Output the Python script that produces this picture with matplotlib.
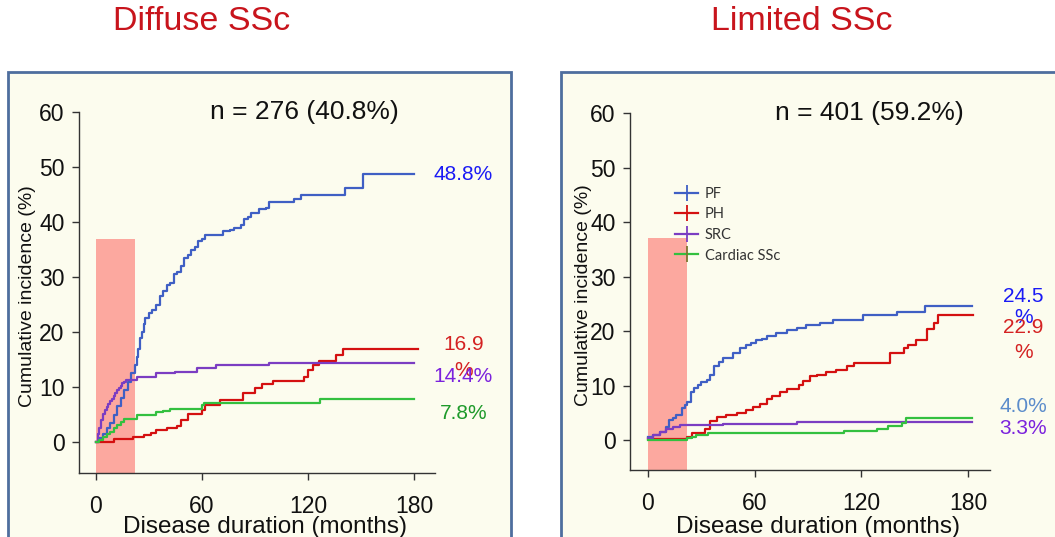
import matplotlib
matplotlib.use("Agg")
import matplotlib.pyplot as plt
from matplotlib.lines import Line2D
from matplotlib.patches import Rectangle

plt.rcParams['font.family'] = ['Liberation Sans', 'DejaVu Sans']

# ---- data: step points (months, cumulative incidence %) ----
# Diffuse SSc
d_pf_t = [0, 2, 4, 6, 8, 10, 12, 14, 16, 18, 20, 22, 23, 24, 25, 26, 27, 28, 30, 32, 34, 36, 38, 40,
          42, 44, 46, 48, 50, 52, 54, 56, 58, 60, 62, 72, 76, 78, 82, 84, 86, 88, 92, 96, 98, 112,
          116, 141, 151, 180]
d_pf_v = [0, 0.7, 1.5, 2.5, 3.5, 5, 6.5, 8, 9.5, 11, 12.5, 14, 15.5, 17, 19, 20, 21.5, 22.5, 23.5, 24,
          25, 26.5, 27.5, 28.5, 29, 30.5, 31, 32, 33.5, 34, 35, 35.5, 36.5, 37, 37.6, 38.3, 38.6, 39,
          39.5, 40.5, 41, 41.6, 42.3, 42.6, 43.7, 44.2, 44.9, 46.2, 48.8, 48.8]
d_ph_t = [0, 10, 21, 27, 31, 34, 40, 46, 48, 52, 56, 60, 62, 66, 70, 78, 83, 90, 94, 100, 118, 120,
          123, 126, 136, 140, 182]
d_ph_v = [0, 0.5, 1.0, 1.3, 1.7, 2.2, 2.5, 2.9, 4.0, 5.1, 5.1, 5.8, 6.8, 6.8, 7.7, 7.7, 8.9, 9.8,
          10.6, 11.2, 11.9, 13.1, 14.1, 14.7, 15.9, 16.9, 16.9]
d_src_t = [0, 1, 2, 3, 4, 5, 6, 7, 8, 9, 10, 11, 12, 13, 14, 15, 16, 17, 23, 34, 45, 57, 68, 98, 180]
d_src_v = [0, 1.5, 2.5, 4.0, 5.2, 5.8, 6.4, 7.0, 7.4, 7.8, 8.4, 9.0, 9.5, 9.9, 10.3, 10.7, 11.0, 11.3,
           11.9, 12.5, 12.8, 13.4, 14.0, 14.4, 14.4]
d_car_t = [0, 2, 4, 6, 8, 10, 12, 14, 16, 23, 34, 38, 42, 52, 60, 61, 127, 180]
d_car_v = [0, 0.4, 1.0, 1.5, 1.9, 2.5, 3.1, 3.7, 4.3, 4.9, 5.4, 5.7, 6.0, 6.1, 6.8, 7.1, 7.8, 7.8]

# Limited SSc
l_pf_t = [0, 3, 7, 10, 12, 14, 16, 19, 21, 22, 24, 26, 28, 30, 33, 35, 37, 40, 42, 45, 48, 52, 55,
          58, 61, 64, 67, 72, 78, 84, 89, 97, 104, 112, 121, 140, 156, 182]
l_pf_v = [0.5, 0.9, 1.5, 2.4, 3.7, 4.0, 4.6, 5.8, 6.4, 7.0, 8.9, 9.5, 10.1, 10.6, 11.0, 11.9, 13.5,
          14.4, 15.0, 15.0, 15.9, 16.8, 17.4, 17.8, 18.3, 18.6, 19.0, 19.6, 20.2, 20.6, 21.1, 21.5,
          22.0, 22.1, 22.9, 23.5, 24.5, 24.5]
l_ph_t = [0, 22, 25, 32, 35, 39, 44, 50, 55, 59, 63, 67, 70, 74, 78, 85, 87, 91, 95, 100, 106, 112,
          116, 136, 144, 146, 151, 157, 161, 163, 183]
l_ph_v = [0.1, 0.6, 1.2, 2.1, 3.4, 4.2, 4.6, 5.0, 5.5, 6.1, 6.7, 7.5, 8.1, 8.9, 9.3, 10.1, 10.8, 11.7,
          11.9, 12.4, 12.8, 13.5, 14.2, 15.9, 16.8, 17.4, 18.3, 20.3, 21.4, 22.9, 22.9]
l_src_t = [0, 3, 7, 10, 14, 18, 42, 84, 182]
l_src_v = [0.3, 0.9, 1.5, 2.1, 2.4, 2.7, 3.0, 3.3, 3.3]
l_car_t = [0, 22, 25, 27, 34, 110, 129, 135, 143, 145, 182]
l_car_v = [0, 0.3, 0.6, 0.9, 1.2, 1.7, 2.1, 2.6, 3.1, 4.0, 4.0]

labels = ['PF', 'PH', 'SRC', 'Cardiac SSc']
line_colors = ['#3F5FC4', '#D41010', '#7B3DC2', '#33C03F']

# end-of-curve labels: (text, y, colour)
d_end = [('48.8%', 48.7, '#1A1AF5'), ('16.9', 17.7, '#D42222'), ('%', 13.1, '#D42222'),
         ('14.4%', 11.9, '#7B22DD'), ('7.8%', 5.3, '#1E9A2A')]
l_end = [('24.5', 26.4, '#1A1AF5'), ('%', 22.4, '#1A1AF5'), ('22.9', 20.6, '#D42222'),
         ('%', 16.1, '#D42222'), ('4.0%', 6.1, '#5B8CCB'), ('3.3%', 2.2, '#7B22DD')]

cream = '#FCFCEE'
border = '#4E6E9E'

fig = plt.figure(figsize=(10.55, 5.37), dpi=100)
W, H = 1055, 537

# panel boxes (behind the axes)
for x0, x1 in [(8, 511), (561, 1057)]:
    fig.patches.append(Rectangle((x0 / W, -0.05), (x1 - x0) / W, (H - 72) / H + 0.05,
                                 transform=fig.transFigure, facecolor=cream,
                                 edgecolor=border, linewidth=2, zorder=-1))

fig.text(202 / W, 1 - 22 / H, 'Diffuse SSc', color='#C8141C', fontsize=24.5, ha='center', va='center')
fig.text(802 / W, 1 - 22 / H, 'Limited SSc', color='#C8141C', fontsize=24.5, ha='center', va='center')


def panel(rect, xlim, ylim, series, ntext, nx, ends, endx, xl_y, yl_x, legend=False):
    ax = fig.add_axes(rect)
    ax.set_facecolor('none')
    ax.set_xlim(*xlim)
    ax.set_ylim(*ylim)
    for s in ['top', 'right']:
        ax.spines[s].set_visible(False)
    for s in ['left', 'bottom']:
        ax.spines[s].set_color('#333333')
        ax.spines[s].set_linewidth(1.0)
    ax.set_xticks([0, 60, 120, 180])
    ax.set_yticks([0, 10, 20, 30, 40, 50, 60])
    ax.tick_params(labelsize=16.5, length=5, width=1, color='#333333', labelcolor='#111111')
    ax.tick_params(axis='y', pad=5.5)
    ax.tick_params(axis='x', pad=10.5)

    # early-disease shading
    ax.add_patch(Rectangle((0, ylim[0]), 22, 37 - ylim[0], facecolor='#FCA89F',
                           edgecolor='none', zorder=1))

    for (t, v), c in zip(series, line_colors):
        ax.step(t, v, where='post', color=c, lw=1.6, zorder=3)

    ax.text(nx, 1.0, ntext, transform=ax.transAxes, fontsize=19, ha='center', va='center',
            color='#111111')
    for txt, y, c in ends:
        ax.text(endx, y, txt, color=c, fontsize=15, ha='center', va='center')

    ax.set_xlabel('Disease duration (months)', fontsize=17.5, color='#111111')
    ax.set_ylabel('Cumulative incidence (%)', fontsize=14, color='#111111')
    ax.xaxis.set_label_coords(0.522, xl_y)
    ax.yaxis.set_label_coords(yl_x, 0.49)

    if legend:
        handles = []
        for c, mc in zip(line_colors, line_colors[:3] + ['#7D7530']):
            handles.append(Line2D([], [], color=c, lw=1.6, marker='|', markersize=11,
                                  markeredgewidth=1.3, markeredgecolor=mc))
        ax.legend(handles, labels, loc='upper left', bbox_to_anchor=(0.125, 0.793),
                  frameon=False, prop={'family': 'Lato', 'size': 10.5}, borderpad=0,
                  borderaxespad=0, handlelength=1.6, handletextpad=0.45, labelspacing=0.45,
                  labelcolor='#333333')
    return ax


panel([79 / W, 1 - 473 / H, 356 / W, 361 / H], (-9.6, 191.9), (-5.6, 60),
      [(d_pf_t, d_pf_v), (d_ph_t, d_ph_v), (d_src_t, d_src_v), (d_car_t, d_car_v)],
      'n = 276 (40.8%)', 0.632, d_end, 208, -0.118, -0.12)

panel([630 / W, 1 - 470 / H, 360 / W, 357 / H], (-10.1, 192.4), (-5.5, 60),
      [(l_pf_t, l_pf_v), (l_ph_t, l_ph_v), (l_src_t, l_src_v), (l_car_t, l_car_v)],
      'n = 401 (59.2%)', 0.664, l_end, 211, -0.13, -0.105, legend=True)

fig.savefig('out.png', dpi=100)
